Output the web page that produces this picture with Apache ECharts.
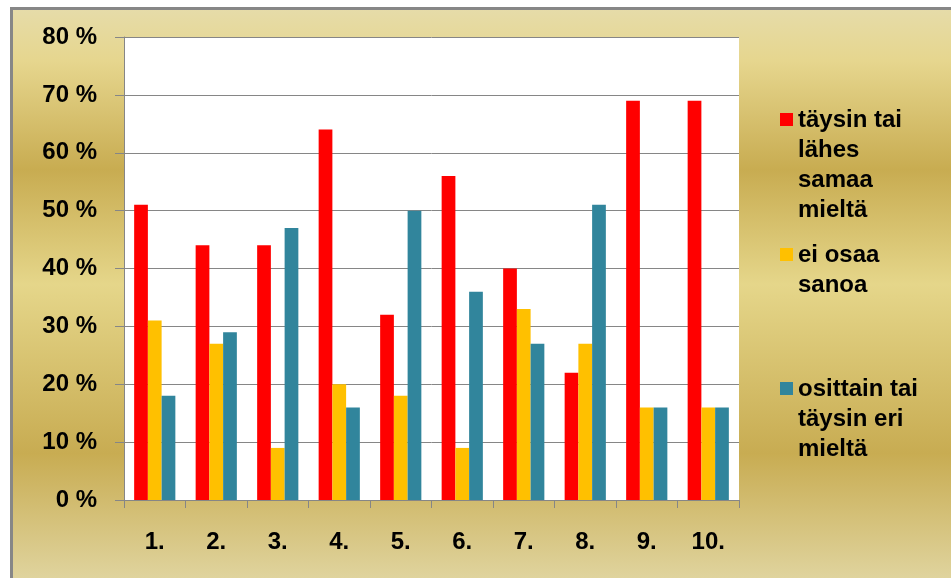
<!DOCTYPE html>
<html>
<head>
<meta charset="utf-8">
<script src="https://cdn.jsdelivr.net/npm/echarts@6/dist/echarts.min.js"></script>
<style>
    html, body { margin: 0; padding: 0; background: #fff; }
    #chart { width: 951px; height: 578px; }
</style>
</head>
<body>
<div id="chart"></div>
<script>
const categories = ['1.', '2.', '3.', '4.', '5.', '6.', '7.', '8.', '9.', '10.']
const samaa = [51, 44, 44, 64, 32, 56, 40, 22, 69, 69]
const eiOsaa = [31, 27, 9, 20, 18, 9, 33, 27, 16, 16]
const eriMielta = [18, 29, 47, 16, 50, 36, 27, 51, 16, 16]
const yTicks = [0, 10, 20, 30, 40, 50, 60, 70, 80]

const seriesNames = [
    'täysin tai\nlähes\nsamaa\nmieltä',
    'ei osaa\nsanoa',
    'osittain tai\ntäysin eri\nmieltä'
]
const colors = ['#ff0000', '#ffc000', '#31859c']

const font = '"Liberation Sans", Arial, sans-serif'

const mChart = echarts.init(document.getElementById('chart'))

// legend icon: small square at the top of a tall box, so it sits beside the first line
const iconFor = (h) => 'path://M0,0h0.01v0.01h-0.01z M0,8h13v13h-13z M0,' + (h - 0.01) + 'h0.01v0.01h-0.01z'

const legendItem = (name, top, lines) => ({
    data: [name],
    orient: 'vertical',
    left: 780,
    top: top,
    padding: 0,
    itemWidth: 13,
    itemHeight: lines * 30,
    icon: iconFor(lines * 30),
    selectedMode: false,
    textStyle: {
        fontFamily: font,
        fontSize: 24,
        fontWeight: 'bold',
        color: '#000',
        lineHeight: 30
    }
})

const option = {
    backgroundColor: '#fff',
    animation: false,
    graphic: [
        {
            type: 'rect',
            z: -10,
            shape: { x: 11.5, y: 8.5, width: 960, height: 600 },
            style: {
                fill: new echarts.graphic.LinearGradient(0, 0, 0, 1, [
                    { offset: 0, color: '#e6dcaa' },
                    { offset: 0.09, color: '#e6d68e' },
                    { offset: 0.27, color: '#c8ac51' },
                    { offset: 0.46, color: '#e5d68a' },
                    { offset: 0.74, color: '#c8ac52' },
                    { offset: 0.96, color: '#e1d6a2' },
                    { offset: 1, color: '#e1d6a2' }
                ]),
                stroke: '#878787',
                lineWidth: 3
            }
        }
    ],
    legend: [
        legendItem(seriesNames[0], 105, 4),
        legendItem(seriesNames[1], 240, 2),
        legendItem(seriesNames[2], 374, 3)
    ],
    grid: {
        left: 124,
        top: 37,
        right: 212,
        bottom: 78,
        show: true,
        backgroundColor: '#fff',
        borderWidth: 0
    },
    xAxis: {
        type: 'category',
        data: categories,
        axisLine: { lineStyle: { color: '#868686', width: 1 } },
        axisTick: { show: true, length: 8, lineStyle: { color: '#868686' } },
        axisLabel: {
            margin: 30,
            fontFamily: font,
            fontSize: 24,
            fontWeight: 'bold',
            color: '#000'
        }
    },
    yAxis: {
        type: 'value',
        min: 0,
        max: 80,
        interval: 10,
        axisLine: { show: true, lineStyle: { color: '#868686', width: 1 } },
        axisTick: { show: true, length: 9, lineStyle: { color: '#868686' } },
        splitLine: { show: true, lineStyle: { color: '#868686', width: 1 } },
        axisLabel: {
            margin: 27,
            fontFamily: font,
            fontSize: 24,
            fontWeight: 'bold',
            color: '#000',
            formatter: (v) => yTicks.includes(v) ? v + ' %' : ''
        }
    },
    series: [samaa, eiOsaa, eriMielta].map((d, i) => ({
        name: seriesNames[i],
        type: 'bar',
        data: d,
        barGap: '0%',
        barCategoryGap: '33%',
        itemStyle: { color: colors[i] }
    }))
}

mChart.setOption(option)
</script>
</body>
</html>
